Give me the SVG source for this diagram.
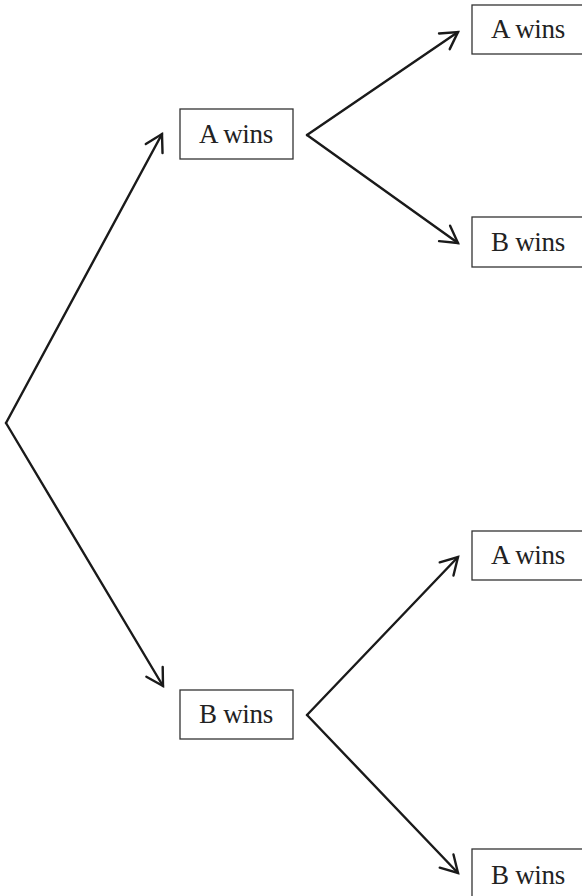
<svg xmlns="http://www.w3.org/2000/svg" width="582" height="896" viewBox="0 0 582 896">
<style>
.box{fill:#fff;stroke:#333;stroke-width:1.3}
.lbl{font-family:"Liberation Serif","Times New Roman",serif;font-size:27px;fill:#222;text-anchor:middle;letter-spacing:-0.3px}
.edge{stroke:#1a1a1a;stroke-width:2.4;fill:none;stroke-linecap:round;marker-end:url(#arr)}
</style>
<defs>
<marker id="arr" markerUnits="userSpaceOnUse" markerWidth="34" markerHeight="34" viewBox="-22 -17 34 34" refX="0" refY="0" orient="auto">
<path d="M-16.5,-9.5 L0,0 L-16.5,9.5" fill="none" stroke="#1a1a1a" stroke-width="2.4" stroke-linecap="round" stroke-linejoin="miter"/>
</marker>
</defs>
<rect width="582" height="896" fill="#fff"/>
<g id="edges">
<line class="edge" x1="6" y1="423" x2="162" y2="134"/>
<line class="edge" x1="6" y1="423" x2="163" y2="686"/>
<line class="edge" x1="307" y1="135" x2="458" y2="32"/>
<line class="edge" x1="307" y1="135" x2="458" y2="243"/>
<line class="edge" x1="307" y1="715" x2="458" y2="557"/>
<line class="edge" x1="307" y1="715" x2="458" y2="873"/>
</g>
<g id="n1"><rect class="box" x="180" y="109" width="113" height="50"/><text class="lbl" x="236" y="143">A wins</text></g>
<g id="n2"><rect class="box" x="180" y="690" width="113" height="49"/><text class="lbl" x="236" y="723">B wins</text></g>
<g id="n3"><rect class="box" x="472" y="5" width="113" height="49"/><text class="lbl" x="528" y="38">A wins</text></g>
<g id="n4"><rect class="box" x="472" y="217" width="113" height="50"/><text class="lbl" x="528" y="251">B wins</text></g>
<g id="n5"><rect class="box" x="472" y="531" width="113" height="49"/><text class="lbl" x="528" y="564">A wins</text></g>
<g id="n6"><rect class="box" x="472" y="849" width="113" height="50"/><text class="lbl" x="528" y="884">B wins</text></g>
</svg>
